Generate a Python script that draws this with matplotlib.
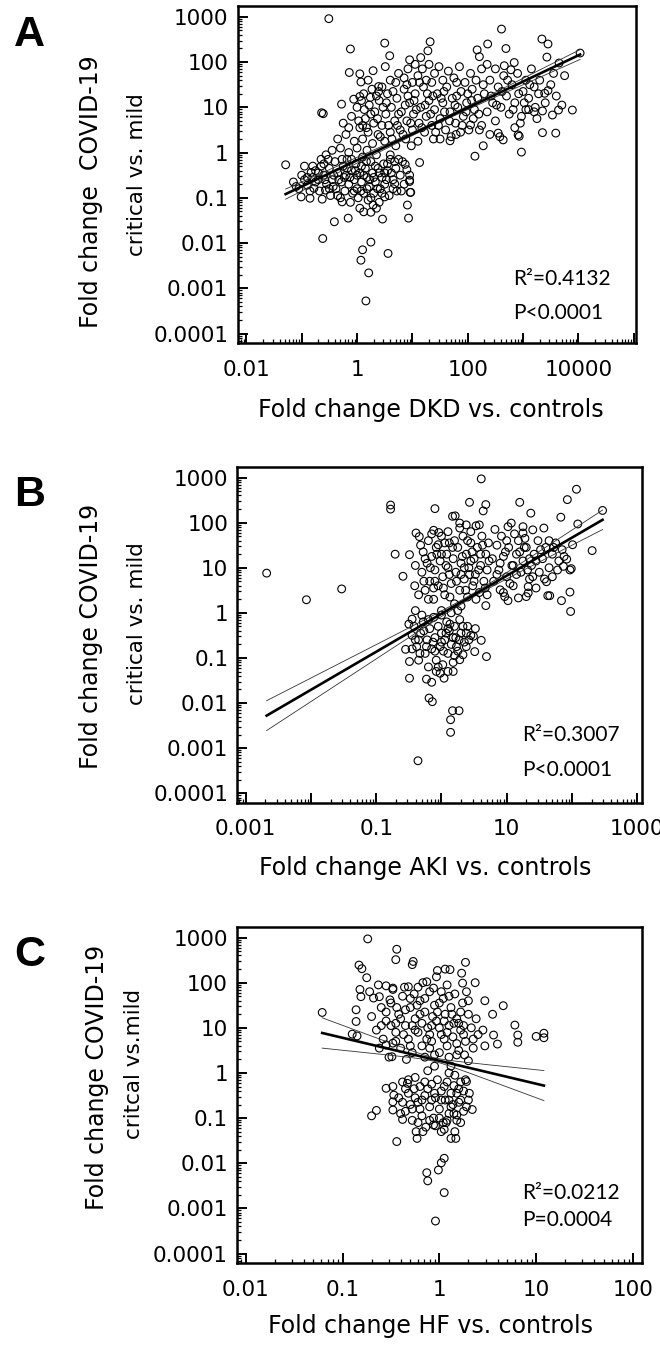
import numpy as np
import matplotlib
matplotlib.use("Agg")
import matplotlib.pyplot as plt
from matplotlib.ticker import LogLocator, FuncFormatter

plt.rcParams['font.family'] = 'DejaVu Sans'

# log10 fold changes: (x = kidney disease vs controls, y = COVID-19 critical vs mild)
dkd_points = [
    (-0.51, 2.96), (0.50, 2.42), (-0.12, 2.29), (0.59, 2.14), (-0.14, 1.77), (0.05, 1.74),
    (0.29, 1.81), (0.07, 1.56), (0.51, 1.90), (-0.28, 1.07), (-0.64, 0.88), (-0.61, 0.86),
    (-0.06, 1.18), (0.05, 1.24), (0.24, 1.22), (0.39, 1.46), (0.39, 1.35), (-1.29, -0.27),
    (-0.83, -0.44), (-0.56, -0.05), (-1.01, -0.98), (-0.85, -1.01), (-0.63, -1.03), (-0.78, -0.79),
    (-0.57, -0.83), (-0.41, -1.53), (-0.16, -1.45), (-0.62, -1.90), (-0.27, -1.09), (0.05, -1.23),
    (0.12, -1.31), (0.25, -1.32), (0.29, -1.16), (0.35, -1.23), (0.46, -1.47), (0.10, -2.15),
    (0.25, -1.98), (0.07, -2.38), (0.56, -2.23), (0.21, -2.66), (0.16, -3.28), (0.91, -1.16),
    (0.93, -1.45), (0.96, -0.88), (0.95, -0.64), (0.68, -0.69), (0.50, -0.98),
    (2.61, 2.73), (1.32, 2.45), (1.28, 2.25), (2.17, 2.27), (2.21, 2.12), (2.36, 2.40),
    (2.69, 2.30), (3.34, 2.51), (3.45, 2.40), (4.03, 2.20), (3.43, 2.11), (3.65, 1.98),
    (3.55, 1.75), (2.84, 1.99), (2.78, 1.83), (2.66, 1.92), (3.39, 1.31), (3.45, 1.37),
    (3.89, 0.94), (3.64, 0.94), (3.53, 0.83), (3.35, 0.44), (3.59, 0.43), (2.97, 0.01),
    (2.91, 0.39), (2.93, 0.36), (2.28, 0.15), (2.13, -0.08), (1.68, 0.26), (1.79, 0.40),
    (1.50, 0.30), (1.13, -0.22), (0.87, -0.26), (0.90, -0.38), (0.95, -0.50), (0.95, -0.61),
    (0.97, -0.88), (3.10, 0.95), (3.20, 0.90), (3.35, 0.92), (3.22, 1.00), (2.97, 0.80),
    (2.55, 0.43), (2.58, 0.35), (2.64, 0.28), (2.05, 0.61), (2.21, 0.50),
    (-1.10, -0.75), (-0.95, -0.60), (-0.90, -0.72), (-0.80, -0.55), (-0.70, -0.60), (-0.75, -0.40),
    (-0.65, -0.30), (-0.75, -0.65), (-0.68, -0.85), (-0.60, -0.50), (-0.55, -0.70), (-0.50, -0.35),
    (-0.48, -0.95), (-0.45, -0.60), (-0.40, -0.20), (-0.38, -0.80), (-0.35, -0.45), (-0.30, -1.00),
    (-0.28, -0.65), (-0.25, -0.30), (-0.22, -0.85), (-0.20, -0.50), (-0.18, -0.15), (-0.15, -0.70),
    (-0.12, -1.10), (-0.10, -0.40), (-0.08, -0.90), (-0.05, -0.60), (-0.02, -0.25), (0.00, -0.80),
    (0.02, -1.00), (0.05, -0.45), (0.08, -0.65), (0.10, -0.10), (0.12, -0.90), (0.15, -0.35),
    (0.18, -0.55), (0.20, -1.05), (0.22, -0.75), (0.25, -0.20), (0.28, -0.45), (0.30, -0.90),
    (0.33, -0.65), (0.35, -0.05), (0.38, -0.35), (0.40, -1.10), (0.42, -0.80), (0.45, -0.55),
    (0.48, -0.25), (0.50, -0.70), (0.55, -0.40), (0.58, -0.95), (0.60, -0.15), (0.65, -0.60),
    (0.70, -0.35), (0.72, -0.85), (0.78, -0.50), (0.82, -0.20), (0.85, -0.70), (-0.65, -0.15),
    (-0.45, 0.05), (-0.30, 0.10), (-0.15, 0.00), (0.00, 0.10), (-0.90, -0.55), (-1.05, -0.80),
    (-0.95, -0.30), (-1.15, -0.65), (-0.60, -0.25), (-0.42, -0.50), (-0.33, -0.60), (-0.18, -0.35),
    (-0.05, -0.85), (0.08, -0.30), (0.18, -0.80), (0.30, -0.55), (0.45, -0.90), (0.55, -0.25),
    (0.65, -0.80), (0.75, -0.15), (-0.10, -0.15), (0.12, -0.50), (0.40, -0.45), (-0.50, -0.80),
    (-0.35, -0.95), (0.00, -0.50), (0.25, -1.00), (0.50, -0.45),
    (-0.70, -0.45), (-0.58, -0.60), (-0.52, -0.15), (-0.43, -0.75), (-0.27, -0.15), (-0.23, -0.55),
    (-0.13, -0.55), (-0.03, -0.40), (0.07, -0.85), (0.17, -0.20), (0.23, -0.60), (0.33, -0.30),
    (0.37, -0.80), (0.53, -0.60), (0.62, -0.45), (0.68, -0.20), (0.80, -0.85), (-0.85, -0.85),
    (-1.00, -0.50), (-0.80, -0.30),
    (-0.20, 0.40), (-0.10, 0.80), (-0.05, 0.25), (0.00, 1.00), (0.05, 0.55), (0.10, 0.30),
    (0.12, 1.30), (0.15, 0.75), (0.20, 0.45), (0.22, 1.05), (0.28, 0.20), (0.30, 0.65),
    (0.32, 0.90), (0.38, 0.40), (0.40, 1.15), (0.45, 0.60), (0.50, 0.25), (0.52, 0.85),
    (0.55, 1.30), (0.60, 0.45), (0.62, 1.00), (0.68, 0.70), (0.70, 0.15), (0.72, 1.20),
    (0.78, 0.50), (0.80, 0.90), (0.85, 1.40), (0.88, 0.30), (0.90, 0.70), (0.95, 1.10),
    (1.00, 0.50), (1.02, 0.85), (1.05, 1.30), (1.10, 0.25), (1.12, 0.65), (1.15, 1.00),
    (1.20, 1.45), (1.22, 0.45), (1.25, 0.80), (1.30, 1.15), (1.35, 0.60), (1.38, 0.30),
    (1.40, 0.95), (1.45, 1.30), (1.50, 0.75), (1.55, 1.10), (1.60, 0.50), (1.62, 1.45),
    (1.68, 0.90), (1.72, 1.20), (1.78, 0.65), (1.82, 1.00), (1.88, 1.35), (1.92, 0.80),
    (1.98, 1.10), (2.02, 0.50), (2.08, 1.40), (2.12, 0.95), (2.18, 1.20), (-0.25, 0.65),
    (0.18, 0.05), (0.60, -0.05), (0.03, 0.70), (0.08, 1.15), (0.17, 0.55), (0.25, 0.85),
    (0.35, 1.25), (0.42, 0.35), (0.47, 1.00), (0.57, 0.60), (0.65, 1.35), (0.75, 0.85),
    (0.83, 0.40), (0.92, 1.25), (0.98, 0.15), (1.07, 0.95), (1.17, 0.55), (1.27, 1.30),
    (1.33, 0.85), (1.42, 0.45), (1.52, 1.20), (1.58, 0.90), (1.70, 0.35), (1.80, 1.25),
    (1.90, 0.60), (2.00, 1.30), (2.10, 0.75), (0.60, 1.60), (0.90, 1.50), (1.35, 1.55),
    (1.80, 1.55), (0.13, 0.95), (0.27, 1.40), (0.37, 0.75), (0.53, 1.10), (0.63, 0.30),
    (0.73, 0.60), (0.87, 1.05), (0.97, 0.65), (1.03, 1.15), (1.13, 1.55), (1.23, 1.05),
    (1.37, 1.25), (1.47, 0.60), (1.57, 1.35), (1.67, 0.70), (1.77, 1.05), (1.87, 0.45),
    (1.97, 0.90), (2.07, 1.15), (2.20, 0.85), (0.20, 1.60), (0.45, 1.45), (-0.15, 0.55),
    (-0.35, 0.30), (0.10, 0.60),
    (0.85, 1.65), (0.92, 1.85), (1.00, 1.55), (1.05, 1.95), (1.10, 1.70), (1.18, 1.85),
    (1.25, 1.60), (1.30, 1.95), (1.40, 1.75), (1.48, 1.90), (1.55, 1.60), (1.65, 1.80),
    (1.75, 1.65), (1.85, 1.90), (1.95, 1.55), (2.05, 1.75), (2.15, 1.60), (2.25, 1.85),
    (0.70, 1.55), (0.75, 1.75), (0.95, 2.05), (1.15, 2.10),
    (2.30, 1.30), (2.35, 0.90), (2.40, 1.60), (2.45, 1.10), (2.50, 0.70), (2.55, 1.45),
    (2.60, 1.00), (2.65, 1.70), (2.70, 1.25), (2.75, 0.85), (2.80, 1.50), (2.85, 1.10),
    (2.90, 1.75), (2.95, 0.65), (3.00, 1.35), (3.05, 1.60), (3.10, 1.20), (3.15, 1.85),
    (3.20, 1.45), (3.25, 0.75), (3.30, 1.60), (3.40, 1.10), (3.50, 1.50), (3.60, 1.25),
    (3.70, 1.05), (3.75, 1.70), (2.35, 1.95), (2.50, 1.85), (2.25, 0.60), (2.40, 0.40),
    (2.85, 0.55), (3.05, 0.95), (2.28, 1.50), (2.42, 1.25), (2.52, 1.05), (2.62, 1.35),
    (2.72, 1.60), (2.82, 0.95), (2.92, 1.30), (3.02, 1.10), (3.12, 1.50), (3.28, 1.30),
]

aki_points = [
    (-2.68, 0.88), (-2.07, 0.29), (-1.53, 0.53), (-0.78, 2.39), (-0.78, 2.30), (-0.71, 1.30),
    (-0.49, 1.29), (-0.59, 0.81), (-0.41, 0.60), (-0.39, 1.77), (-0.34, 1.69), (-0.10, 2.31),
    (-0.12, 1.83), (-0.04, 1.78), (-0.05, 1.51), (0.61, 2.97), (0.43, 2.45), (0.64, 2.26),
    (0.68, 2.40), (0.17, 2.14), (0.21, 2.15), (0.28, 1.99), (0.28, 1.88), (0.38, 1.95),
    (0.53, 1.93), (0.58, 1.95), (1.20, 2.45), (1.37, 2.21), (1.07, 1.99), (1.02, 1.91),
    (1.25, 1.91), (1.25, 1.77), (1.40, 1.84), (1.57, 1.88), (1.93, 2.51), (2.07, 2.74),
    (1.83, 2.12), (2.09, 1.97), (2.47, 2.27), (2.31, 1.38), (2.01, 1.51), (1.97, 0.95),
    (1.99, 0.98), (1.92, 1.19), (1.87, 1.03), (1.97, 0.46), (1.98, 0.03), (1.84, 0.27),
    (1.63, 0.38), (1.66, 0.38), (1.61, 0.69), (1.18, 0.33), (1.02, 0.27), (0.97, 0.36),
    (1.30, 0.36), (1.33, 0.44), (1.33, 0.58), (0.68, 0.16), (0.90, 0.51),
    (-0.55, -0.81), (-0.49, -1.08), (-0.49, -1.45), (-0.23, -1.47), (-0.15, -1.54), (-0.19, -1.89),
    (-0.14, -1.97), (0.17, -2.17), (0.27, -2.17), (0.14, -2.37), (0.14, -2.65), (-0.36, -3.28),
    (-0.08, -1.30), (-0.02, -1.34), (0.04, -1.45), (0.18, -1.30), (0.61, -0.61), (0.51, -0.86),
    (0.69, -0.97), (0.49, -0.52), (0.28, -1.04), (0.33, -0.93), (0.38, -0.75), (-0.45, -0.14),
    (0.10, -1.30),
    (-0.30, 0.90), (-0.28, 1.35), (-0.25, 0.50), (-0.22, 1.10), (-0.20, 1.60), (-0.18, 0.70),
    (-0.15, 1.25), (-0.12, 0.30), (-0.10, 0.95), (-0.08, 1.45), (-0.05, 0.60), (-0.02, 1.15),
    (0.00, 1.70), (0.02, 0.80), (0.05, 0.40), (0.08, 1.30), (0.10, 1.00), (0.12, 1.55),
    (0.15, 0.65), (0.18, 1.20), (0.20, 0.20), (0.22, 0.90), (0.25, 1.45), (0.28, 0.50),
    (0.30, 1.10), (0.33, 1.70), (0.35, 0.75), (0.38, 1.30), (0.40, 0.35), (0.42, 1.00),
    (0.45, 1.55), (0.48, 0.60), (0.50, 1.20), (0.52, 0.85), (0.55, 1.45), (0.58, 0.45),
    (0.60, 1.05), (0.62, 1.70), (0.65, 0.70), (0.68, 1.30), (0.70, 0.95), (0.72, 1.55),
    (-0.35, 0.40), (-0.32, 1.50), (0.00, 0.05), (0.15, 0.00), (0.30, 0.15), (0.10, 1.80),
    (-0.15, 1.75), (0.45, 1.80), (-0.40, 1.05), (0.25, 0.05), (-0.27, 0.70), (-0.17, 1.00),
    (-0.07, 1.30), (0.03, 0.55), (0.07, 1.05), (0.13, 0.35), (0.17, 1.45), (0.23, 0.70),
    (0.32, 1.25), (0.37, 0.50), (0.43, 0.85), (0.47, 1.35), (0.53, 0.30), (0.57, 0.95),
    (0.63, 1.50), (0.67, 0.55), (0.73, 1.15), (0.05, 1.55), (-0.12, 0.55), (0.40, 1.60),
    (-0.25, 1.20), (-0.10, 0.70), (0.00, 1.30), (0.12, 0.85), (0.20, 1.60), (0.35, 1.00),
    (0.50, 0.70), (0.60, 1.30), (0.70, 0.40), (-0.20, 0.30), (0.30, 0.85), (0.45, 1.15),
    (0.78, 1.20), (0.80, 0.70), (0.85, 1.50), (0.88, 0.95), (0.92, 1.70), (0.95, 1.25),
    (1.00, 0.80), (1.03, 1.45), (1.08, 1.05), (1.10, 0.60), (1.15, 1.30), (1.18, 1.60),
    (1.22, 0.90), (1.25, 1.15), (1.30, 1.45), (1.35, 0.75), (1.38, 1.05), (1.42, 1.30),
    (1.48, 1.60), (1.50, 0.90), (1.55, 1.20), (1.60, 1.45), (1.65, 1.00), (1.70, 1.30),
    (1.75, 1.55), (1.80, 1.15), (1.85, 1.40), (1.12, 1.75), (0.82, 1.85), (1.45, 0.55),
    (0.95, 0.45), (1.70, 0.80), (0.90, 1.10), (1.05, 0.65), (1.20, 1.35), (1.32, 0.95),
    (1.45, 1.15), (1.58, 0.75), (1.72, 1.45), (1.88, 1.25), (1.00, 1.60), (1.28, 1.65),
    (0.85, 0.85), (0.98, 1.35), (1.15, 0.85), (1.27, 1.45), (1.40, 0.80), (1.52, 1.40),
    (1.65, 1.60), (1.78, 0.95), (1.10, 1.05), (1.35, 1.20),
    (-0.45, -0.50), (-0.42, -0.30), (-0.38, -0.75), (-0.35, -1.05), (-0.32, -0.45), (-0.28, -0.20),
    (-0.25, -0.90), (-0.22, -0.60), (-0.20, -1.20), (-0.18, -0.35), (-0.15, -0.80), (-0.12, -0.10),
    (-0.10, -0.55), (-0.08, -1.05), (-0.05, -0.30), (-0.02, -0.75), (0.00, -0.45), (0.02, -1.15),
    (0.05, -0.60), (0.08, -0.20), (0.10, -0.90), (0.12, -0.40), (0.15, -0.70), (0.18, -1.10),
    (0.20, -0.30), (0.22, -0.55), (0.25, -0.85), (0.28, -0.15), (0.30, -0.45), (0.35, -0.65),
    (0.40, -0.30), (0.45, -0.50), (0.52, -0.35), (-0.30, -0.05), (0.00, -0.05), (-0.40, 0.05),
    (-0.50, -0.25), (-0.40, -0.60), (-0.27, -0.40), (-0.13, -0.65), (0.03, -0.85), (0.13, -0.25),
    (0.23, -0.75), (0.33, -0.30), (-0.20, -0.15), (0.07, -0.45), (-0.33, -0.90), (0.18, -0.55),
    (0.42, -0.60), (-0.35, -0.60), (-0.23, -0.75), (-0.10, -0.85), (0.00, -0.65), (0.10, -0.35),
    (0.20, -0.95), (0.27, -0.60), (-0.05, -1.20), (0.38, -0.45), (-0.45, -0.80),
]

hf_points = [
    (-0.74, 2.97), (-0.44, 2.74), (-0.45, 2.51), (-0.83, 2.39), (-0.80, 2.31), (-0.75, 2.11),
    (-0.27, 2.47), (-0.28, 2.40), (-0.02, 2.27), (-0.03, 2.13), (0.06, 2.30), (0.11, 2.29),
    (0.27, 2.45), (0.23, 2.21), (0.37, 2.00), (0.24, 1.99), (-1.21, 1.34), (-0.90, 0.86),
    (-0.85, 0.82), (-0.82, 1.85), (-0.81, 1.69), (-0.86, 1.40), (-0.86, 1.14), (0.47, 1.60),
    (0.55, 1.30), (0.66, 1.49), (0.78, 1.06), (0.56, 0.84), (0.60, 0.64), (0.47, 0.60),
    (0.81, 0.84), (0.81, 0.68), (1.00, 0.81), (1.08, 0.88), (1.08, 0.78), (0.45, 0.95),
    (0.35, 0.55), (0.30, 0.27), (-0.55, 0.62), (-0.49, 0.36), (-0.48, 0.66), (-0.33, -0.23),
    (-0.55, -0.34), (-0.48, -0.30), (-0.47, -0.49), (-0.48, -0.64), (0.28, -0.19), (0.31, -0.45),
    (0.28, -0.75), (0.34, -0.81), (-0.65, -0.83), (-0.70, -0.95),
    (-0.63, 1.95), (-0.55, 1.93), (-0.48, 1.85), (-0.72, 1.80), (-0.68, 1.66), (-0.62, 1.69),
    (-0.51, 1.62), (-0.48, 1.88), (-0.32, 1.91), (-0.22, 1.90), (-0.17, 2.00), (-0.13, 2.02),
    (-0.06, 1.88),
    (-0.44, -1.52), (-0.48, -0.82), (-0.38, -1.03), (-0.24, -1.30), (-0.23, -1.45), (-0.17, -1.30),
    (-0.06, -1.15), (-0.04, -1.17), (0.02, -1.30), (0.07, -1.10), (0.12, -1.45), (0.17, -1.45),
    (0.16, -1.30), (0.18, -0.93), (-0.13, -2.21), (-0.12, -2.39), (-0.01, -2.15), (0.02, -1.99),
    (0.05, -1.89), (0.05, -2.65), (-0.04, -3.28),
    (-0.70, 1.25), (-0.65, 0.95), (-0.60, 1.45), (-0.58, 0.75), (-0.55, 1.15), (-0.50, 1.55),
    (-0.45, 0.90), (-0.42, 1.30), (-0.40, 0.55), (-0.38, 1.70), (-0.35, 1.05), (-0.32, 0.75),
    (-0.30, 1.45), (-0.28, 0.45), (-0.25, 1.20), (-0.22, 0.90), (-0.20, 1.60), (-0.18, 0.60),
    (-0.15, 1.35), (-0.12, 1.00), (-0.10, 1.80), (-0.08, 0.70), (-0.05, 1.50), (-0.03, 1.15),
    (0.00, 0.45), (0.02, 0.85), (0.04, 1.65), (0.06, 1.30), (0.08, 0.60), (0.10, 1.05),
    (0.12, 1.45), (0.14, 0.80), (0.16, 1.75), (0.18, 1.20), (0.20, 0.50), (0.22, 0.95),
    (0.24, 1.55), (0.27, 0.70), (0.30, 1.30), (0.33, 1.00), (-0.36, 1.90), (-0.26, 1.75),
    (0.08, 1.95), (0.28, 1.80), (-0.15, 0.35), (-0.62, 0.55), (-0.52, 0.35), (0.38, 1.20),
    (0.40, 0.85), (-0.44, 1.45), (-0.07, 1.25), (0.10, 0.35), (-0.28, 1.05), (0.00, 1.00),
    (-0.18, 1.10), (0.20, 1.10), (0.26, 0.40), (-0.50, 1.05), (-0.10, 0.55), (0.12, 0.15),
    (-0.34, 0.30), (-0.40, 1.20), (-0.30, 0.60), (-0.20, 1.30), (-0.10, 0.85), (0.00, 1.55),
    (0.05, 0.75), (0.15, 1.10), (0.25, 0.85), (-0.35, 1.40), (-0.15, 1.65), (0.10, 1.70),
    (-0.05, 0.40), (0.18, 0.40), (-0.25, 0.95), (0.05, 1.15), (0.30, 1.60), (-0.60, 1.05),
    (-0.45, 0.70), (-0.55, 1.35), (-0.37, 0.85), (-0.23, 1.50), (-0.13, 0.75), (-0.02, 1.35),
    (0.08, 0.90), (0.13, 1.30), (0.22, 1.35), (0.35, 0.75), (-0.30, 1.65), (-0.08, 1.05),
    (0.02, 1.80), (0.18, 0.65), (-0.45, 1.10), (0.25, 1.05),
    (-0.42, -0.55), (-0.38, -0.20), (-0.35, -0.85), (-0.32, -0.45), (-0.28, -1.05), (-0.25, -0.10),
    (-0.22, -0.65), (-0.20, -0.30), (-0.18, -0.95), (-0.15, -0.50), (-0.12, 0.05), (-0.10, -0.75),
    (-0.08, -0.25), (-0.06, -1.00), (-0.04, -0.55), (-0.02, -0.15), (0.00, -0.80), (0.02, -0.40),
    (0.04, -1.10), (0.06, -0.60), (0.08, -0.20), (0.10, -0.90), (0.12, -0.45), (0.14, -0.70),
    (0.16, -0.05), (0.18, -1.05), (0.20, -0.35), (0.22, -0.60), (0.25, -0.85), (0.27, -0.15),
    (-0.30, -0.70), (-0.14, -1.20), (0.05, -1.25), (-0.26, -0.35), (0.10, 0.00), (-0.05, 0.15),
    (0.15, -0.28), (-0.35, -0.35), (-0.25, -0.55), (-0.15, -0.20), (-0.05, -0.45), (0.05, -0.30),
    (0.15, -0.90), (0.20, -0.65), (0.25, -0.40), (-0.20, -0.80), (0.00, -1.00), (0.10, -0.60),
    (-0.10, -1.05), (0.22, -1.10), (-0.40, -0.90), (0.30, -0.60), (-0.38, -0.65), (-0.28, -0.80),
    (-0.18, -0.60), (-0.08, -0.60), (0.02, -0.60), (0.12, -0.75), (0.22, -0.20), (-0.12, -0.35),
    (0.08, -1.05), (-0.22, -1.10), (0.18, -0.45), (-0.32, -0.15),
]

# regression line (log10 y = intercept + slope * log10 x) and confidence band
fit_slope = [0.58, 0.843, -0.509]
fit_intercept = [-0.17, -0.02, 0.27]
band_center = [1.4, 0.45, -0.06]
band_min_halfwidth = [0.03, 0.04, 0.04]
band_spread = [0.04, 0.105, 0.29]

x_labels = ["Fold change DKD vs. controls", "Fold change AKI vs. controls",
            "Fold change HF vs. controls"]
y_label_line1 = ["Fold change  COVID-19", "Fold change COVID-19", "Fold change COVID-19"]
y_label_line2 = ["critical vs. mild", "critical vs. mild", "critcal vs.mild"]
panel_letters = ["A", "B", "C"]
r2_text = ["R\u00b2=0.4132", "R\u00b2=0.3007", "R\u00b2=0.0212"]
p_text = ["P<0.0001", "P<0.0001", "P=0.0004"]
x_limits = [(10 ** -2.16, 10 ** 5.04), (10 ** -3.13, 10 ** 3.07), (10 ** -2.09, 10 ** 2.09)]
x_label_every = [2, 2, 1]
x_label_first = [-2, -3, -2]

W, H = 660, 1350
fig = plt.figure(figsize=(W / 100, H / 100), dpi=100)

# pixel geometry of each panel: left, right, top, bottom
boxes = [(237.5, 636, 6, 343), (237.3, 641.7, 466.7, 802.7), (237, 641.7, 926.7, 1263)]
xlabel_pos = [(431, 417), (425, 875), (430, 1333)]
ylab1_pos = [(91, 192), (91, 636), (97, 1077)]
ylab2_pos = [(137, 175), (137, 624), (134, 1064)]
stats_pos = [(513, 285, 319), (522, 741, 776), (522, 1199, 1226)]
letter_pos = [(14, 46), (14, 506), (14, 966)]

all_points = [dkd_points, aki_points, hf_points]


def fx(px):
    return px / W


def fy(py):
    return 1 - py / H


for i in range(3):
    l, r, t, b = boxes[i]
    ax = fig.add_axes([fx(l), fy(b), (r - l) / W, (b - t) / H])
    ax.set_xscale('log')
    ax.set_yscale('log')

    lx = np.array([p[0] for p in all_points[i]])
    ly = np.array([p[1] for p in all_points[i]])
    ax.scatter(10 ** lx, 10 ** ly, s=31, facecolors='none', edgecolors='black',
               linewidths=0.8, zorder=2)

    xs = np.linspace(lx.min(), lx.max(), 200)
    ys = fit_intercept[i] + fit_slope[i] * xs
    hw = np.sqrt(band_min_halfwidth[i] ** 2 + (band_spread[i] * (xs - band_center[i])) ** 2)
    ax.plot(10 ** xs, 10 ** ys, color='black', lw=1.9, zorder=4)
    ax.plot(10 ** xs, 10 ** (ys + hw), color='0.2', lw=0.6, zorder=3)
    ax.plot(10 ** xs, 10 ** (ys - hw), color='0.2', lw=0.6, zorder=3)

    ax.set_xlim(*x_limits[i])
    ax.set_ylim(10 ** -4.21, 10 ** 3.24)

    for axis in (ax.xaxis, ax.yaxis):
        axis.set_major_locator(LogLocator(base=10, numticks=30))
        axis.set_minor_locator(LogLocator(base=10, subs=np.arange(2, 10), numticks=30))

    def xfmt(v, pos, i=i):
        e = int(round(np.log10(v)))
        if (e - x_label_first[i]) % x_label_every[i] == 0:
            return '{:g}'.format(v)
        return ''

    ax.xaxis.set_major_formatter(FuncFormatter(xfmt))
    ax.yaxis.set_major_formatter(FuncFormatter(lambda v, pos: '{:g}'.format(v)))

    ax.tick_params(which='major', direction='in', length=7, width=1.4, labelsize=15.5)
    ax.tick_params(which='minor', direction='in', length=3, width=0.9)
    ax.tick_params(axis='y', which='major', pad=6.5)
    ax.tick_params(axis='x', which='major', pad=12)
    for s in ax.spines.values():
        s.set_linewidth(1.8)

    fig.text(fx(xlabel_pos[i][0]), fy(xlabel_pos[i][1]), x_labels[i], fontsize=17,
             ha='center', va='baseline')
    fig.text(fx(ylab1_pos[i][0]), fy(ylab1_pos[i][1]), y_label_line1[i], fontsize=17,
             rotation=90, ha='center', va='center')
    fig.text(fx(ylab2_pos[i][0]), fy(ylab2_pos[i][1]), y_label_line2[i], fontsize=15.5,
             rotation=90, ha='center', va='center')
    sx, sy1, sy2 = stats_pos[i]
    fig.text(fx(sx), fy(sy1), r2_text[i], fontsize=15, family='Lato', va='baseline')
    fig.text(fx(sx), fy(sy2), p_text[i], fontsize=15, family='Lato', va='baseline')
    fig.text(fx(letter_pos[i][0]), fy(letter_pos[i][1]), panel_letters[i], fontsize=31,
             fontweight='bold', family='Liberation Sans', va='baseline')

fig.savefig('out.png', dpi=100)
